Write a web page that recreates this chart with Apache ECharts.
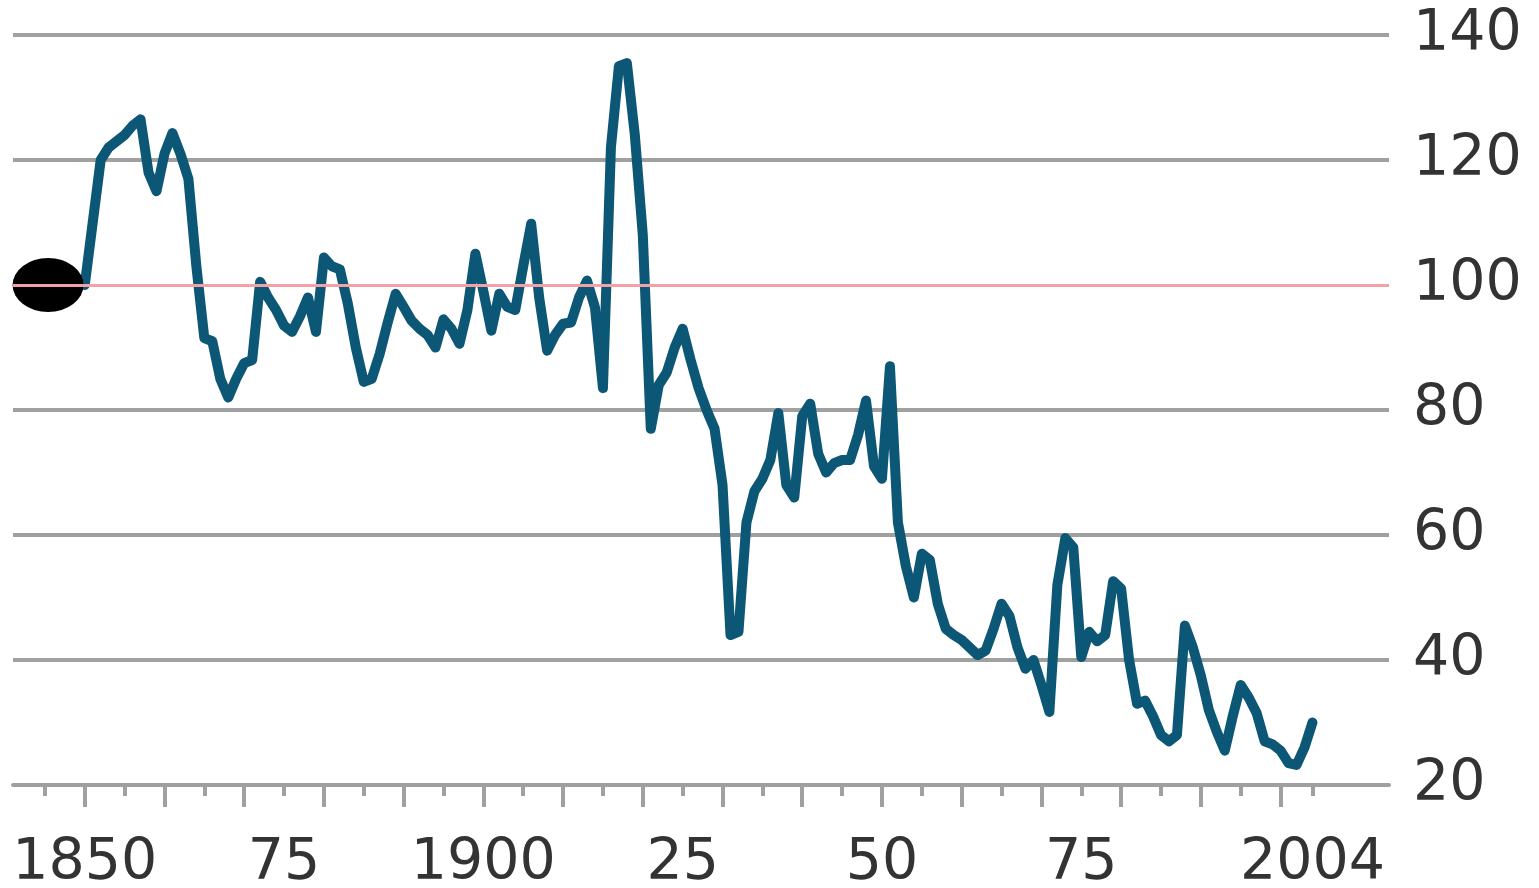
<!DOCTYPE html>
<html>
<head>
<meta charset="utf-8">
<title>Price index, 1850–2004</title>
<script src="https://cdn.jsdelivr.net/npm/echarts@6/dist/echarts.min.js"></script>
<style>
  html, body { margin: 0; padding: 0; background: #ffffff; }
  #chart { width: 1539px; height: 888px; }
</style>
</head>
<body>
<div id="chart"></div>
<script>
// Annual index values, one per year starting at firstYear (1850 ... 2004)
const firstYear = 1850;
const indexValues = [
  100, 110, 120, 122, 123, 124, 125.5, 126.5, 118, 115,        // 1850s
  121, 124.3, 121, 117, 103, 91.5, 91, 85, 82, 85,             // 1860s
  87.5, 88, 100.5, 98, 96, 93.5, 92.5, 95, 98, 92.5,           // 1870s
  104.4, 103, 102.5, 97, 90, 84.5, 85, 89, 94, 98.6,           // 1880s
  96.5, 94.3, 93, 92, 90, 94.5, 93, 90.6, 96, 105,             // 1890s
  99, 92.7, 98.6, 96.5, 96, 103, 109.8, 98, 89.5, 92,          // 1900s
  93.8, 94, 98, 100.7, 96.4, 83.5, 122, 135, 135.5, 124,       // 1910s
  108, 77, 84, 86, 90, 93, 88, 83.5, 80, 77,                   // 1920s
  68, 44, 44.5, 62, 67, 69, 72, 79.5, 68, 66,                  // 1930s
  79, 81, 73, 70, 71.5, 72, 72, 76, 81.5, 71,                  // 1940s
  69, 87, 62, 55, 50, 57, 56, 49, 45, 44,                      // 1950s
  43.2, 42, 40.8, 41.5, 45, 49, 47, 42, 38.6, 40,              // 1960s
  36, 31.7, 52, 59.5, 58, 40.5, 44.5, 43, 44, 52.6,            // 1970s
  51.4, 40, 33, 33.5, 31, 28, 27, 28, 45.5, 42,                // 1980s
  37.5, 32, 28.5, 25.5, 31, 36, 34, 31.5, 27, 26.5,            // 1990s
  25.5, 23.5, 23.2, 26, 30                                     // 2000-2004
];

// Base point marker (index = 100)
const baseMarker = [1845.4, 100];
const baseLevel = 100;

// Axis ticks and labels
const majorTicks = [1850, 1860, 1870, 1880, 1890, 1900, 1910, 1920, 1930, 1940, 1950, 1960, 1970, 1980, 1990, 2000];
const minorTicks = [1845, 1855, 1865, 1875, 1885, 1895, 1905, 1915, 1925, 1935, 1945, 1955, 1965, 1975, 1985, 1995, 2004];
const yearLabelValues = [1850, 1875, 1900, 1925, 1950, 1975, 2004];
const yearLabelTexts = ['1850', '75', '1900', '25', '50', '75', '2004'];

const seriesData = indexValues.map((v, i) => [firstYear + i, v]);

const GRID_GREY = '#a0a0a0';
const LABEL_COLOR = '#333333';
const FONT = '"DejaVu Sans", "Noto Sans", sans-serif';
const X_MIN = 1841;
const X_MAX = 2013.6;

const chart = echarts.init(document.getElementById('chart'), null, { renderer: 'canvas' });

chart.setOption({
  animation: false,
  backgroundColor: '#ffffff',
  grid: { left: 13, right: 150, top: 35, bottom: 103, containLabel: false, outerBoundsMode: 'none' },
  xAxis: [
    {
      type: 'value',
      min: X_MIN,
      max: X_MAX,
      position: 'bottom',
      axisLine: { show: true, lineStyle: { color: GRID_GREY, width: 4 } },
      axisTick: {
        show: true,
        customValues: majorTicks,
        length: 22,
        lineStyle: { color: GRID_GREY, width: 4 }
      },
      axisLabel: {
        show: true,
        customValues: yearLabelValues,
        formatter: (v) => {
          const k = yearLabelValues.indexOf(Math.round(v));
          return k >= 0 ? yearLabelTexts[k] : '';
        },
        margin: 51,
        color: LABEL_COLOR,
        fontFamily: FONT,
        fontSize: 57
      },
      splitLine: { show: false }
    },
    {
      type: 'value',
      min: X_MIN,
      max: X_MAX,
      position: 'bottom',
      axisLine: { show: false },
      axisTick: {
        show: true,
        customValues: minorTicks,
        length: 11,
        lineStyle: { color: GRID_GREY, width: 4 }
      },
      axisLabel: { show: false },
      splitLine: { show: false }
    }
  ],
  yAxis: {
    type: 'value',
    position: 'right',
    min: 20,
    max: 140,
    interval: 20,
    axisLine: { show: false },
    axisTick: { show: false },
    axisLabel: {
      margin: 24,
      color: LABEL_COLOR,
      fontFamily: FONT,
      fontSize: 57,
      padding: [11, 0, 0, 0]
    },
    splitLine: {
      show: true,
      lineStyle: {
        // the line at 100 is drawn separately in red
        color: [GRID_GREY, GRID_GREY, GRID_GREY, GRID_GREY, 'rgba(0,0,0,0)', GRID_GREY, GRID_GREY],
        width: 4
      }
    }
  },
  series: [
    {
      name: 'base',
      type: 'line',
      data: [],
      silent: true,
      markLine: {
        silent: true,
        symbol: 'none',
        label: { show: false },
        lineStyle: { color: '#f3a0a6', width: 3, type: 'solid' },
        data: [{ yAxis: baseLevel }]
      },
      z: 1
    },
    {
      name: 'index',
      type: 'line',
      data: seriesData,
      showSymbol: false,
      symbol: 'none',
      lineStyle: { color: '#0c5676', width: 10, cap: 'round', join: 'round' },
      z: 3
    },
    {
      name: 'start',
      type: 'scatter',
      data: [baseMarker],
      symbol: 'circle',
      symbolSize: [71, 54],
      itemStyle: { color: '#000000', opacity: 1 },
      z: 4
    }
  ]
});
</script>
</body>
</html>
